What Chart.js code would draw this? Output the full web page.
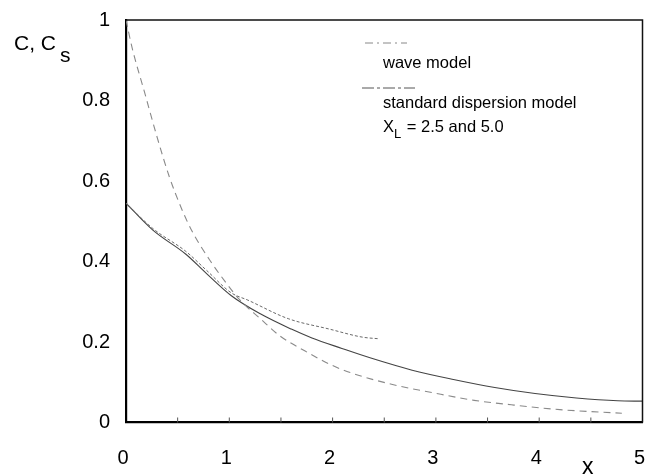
<!DOCTYPE html>
<html><head><meta charset="utf-8">
<script src="https://cdn.jsdelivr.net/npm/chart.js@4/dist/chart.umd.min.js"></script>
<style>html,body{margin:0;padding:0;background:#fff;}#wrap{position:relative;width:646px;height:474px;}</style>
</head><body><div id="wrap"><canvas id="c" width="646" height="474"></canvas></div>
<script>
// ---- data ----
const xTickValues = [0, 1, 2, 3, 4, 5];
const yTickValues = [0, 0.2, 0.4, 0.6, 0.8, 1];
const yTickLabels = ['0', '0.2', '0.4', '0.6', '0.8', '1'];
const xMinorTicks = [0.5, 1, 1.5, 2, 2.5, 3, 3.5, 4, 4.5];

const waveX = [0, 0.06, 0.18, 0.30, 0.42, 0.54, 0.64, 0.82, 0.96, 1.10, 1.30, 1.49, 1.73, 1.97, 2.17, 2.57, 2.97, 3.37, 3.73, 4.20, 4.80];
const waveY = [1.0, 0.93, 0.82, 0.71, 0.61, 0.53, 0.475, 0.40, 0.35, 0.305, 0.258, 0.215, 0.178, 0.145, 0.124, 0.095, 0.074, 0.055, 0.044, 0.032, 0.023];

const disp25X = [0, 0.26, 0.58, 0.78, 1.02, 1.18, 1.57, 1.97, 2.29, 2.45];
const disp25Y = [0.545, 0.482, 0.425, 0.378, 0.322, 0.304, 0.258, 0.232, 0.212, 0.208];

const disp50X = [0, 0.26, 0.58, 0.78, 1.02, 1.30, 1.60, 1.80, 2.09, 2.37, 2.77, 3.17, 3.57, 3.96, 4.36, 4.76, 5.0];
const disp50Y = [0.545, 0.478, 0.418, 0.370, 0.315, 0.270, 0.232, 0.210, 0.184, 0.160, 0.130, 0.107, 0.087, 0.072, 0.061, 0.054, 0.053];

const legendWave = 'wave model';
const legendDisp = 'standard dispersion model';
const legendDisp2 = ['X', 'L', ' = 2.5 and 5.0'];
const yTitle = ['C, C', 's'];
const xTitle = 'x';

const FONT = '"Liberation Sans", Arial, Helvetica, sans-serif';
const pts = (xs, ys) => xs.map((x, i) => ({x: x, y: ys[i]}));

const framePlugin = {
  id: 'frame',
  afterDraw(chart) {
    const {ctx, chartArea: a, scales} = chart;
    ctx.save();
    // top and right frame
    ctx.strokeStyle = '#111';
    ctx.lineWidth = 1.5;
    ctx.beginPath();
    ctx.moveTo(a.left, a.top); ctx.lineTo(a.right, a.top); ctx.lineTo(a.right, a.bottom);
    ctx.stroke();
    // minor ticks inside
    ctx.lineWidth = 1;
    ctx.strokeStyle = '#555';
    xMinorTicks.forEach(v => {
      const px = scales.x.getPixelForValue(v);
      ctx.beginPath(); ctx.moveTo(px, a.bottom); ctx.lineTo(px, a.bottom - 5); ctx.stroke();
    });
    // y title
    ctx.fillStyle = '#000';
    ctx.textBaseline = 'alphabetic';
    ctx.textAlign = 'left';
    ctx.font = '21px ' + FONT;
    ctx.fillText(yTitle[0], 14, 50);
    const w0 = ctx.measureText(yTitle[0]).width;
    ctx.fillText(yTitle[1], 14 + w0 + 4, 62);
    // x title
    ctx.font = '23px ' + FONT;
    ctx.textAlign = 'center';
    ctx.fillText(xTitle, scales.x.getPixelForValue(4.47), 474);
    // legend
    const lx = a.left + 257;
    ctx.textAlign = 'left';
    ctx.font = '16.5px ' + FONT;
    ctx.strokeStyle = '#888';
    ctx.lineWidth = 1;
    ctx.setLineDash([8, 4, 2, 4]);
    ctx.beginPath(); ctx.moveTo(lx - 18, 43); ctx.lineTo(lx + 24, 43); ctx.stroke();
    ctx.fillText(legendWave, lx, 68);
    ctx.strokeStyle = '#555';
    ctx.setLineDash([12, 3, 3, 3]);
    ctx.beginPath(); ctx.moveTo(lx - 21, 88); ctx.lineTo(lx + 32, 88); ctx.stroke();
    ctx.setLineDash([]);
    ctx.fillText(legendDisp, lx, 108);
    ctx.fillText(legendDisp2[0], lx, 132);
    const wx = ctx.measureText(legendDisp2[0]).width;
    ctx.font = '13px ' + FONT;
    ctx.fillText(legendDisp2[1], lx + wx, 138);
    const wl = ctx.measureText(legendDisp2[1]).width;
    ctx.font = '16.5px ' + FONT;
    ctx.fillText(legendDisp2[2], lx + wx + wl + 1, 132);
    ctx.restore();
  }
};

new Chart(document.getElementById('c'), {
  type: 'scatter',
  data: {
    datasets: [
      {label: legendWave, data: pts(waveX, waveY), showLine: true, borderColor: '#8a8a8a', borderWidth: 1.1, borderDash: [7, 5], pointRadius: 0, cubicInterpolationMode: 'monotone'},
      {label: 'X_L = 2.5', data: pts(disp25X, disp25Y), showLine: true, borderColor: '#6a6a6a', borderWidth: 1, borderDash: [3, 2], pointRadius: 0, cubicInterpolationMode: 'monotone'},
      {label: 'X_L = 5.0', data: pts(disp50X, disp50Y), showLine: true, borderColor: '#444', borderWidth: 1.1, pointRadius: 0, cubicInterpolationMode: 'monotone'}
    ]
  },
  options: {
    responsive: false,
    animation: false,
    devicePixelRatio: 1,
    layout: {padding: {left: 0, right: 3.5, top: 20, bottom: 0}},
    plugins: {legend: {display: false}, tooltip: {enabled: false}},
    scales: {
      x: {
        type: 'linear', min: 0, max: 5,
        afterBuildTicks(s) { s.ticks = xTickValues.map(v => ({value: v})); },
        afterFit(s) { s.height = 51.5; s.paddingLeft = 0; s.paddingRight = 0; },
        grid: {display: false, drawTicks: false},
        border: {display: true, color: '#000', width: 2.2},
        ticks: {font: {family: FONT, size: 20}, color: '#000', padding: 24, labelOffset: -3, maxRotation: 0}
      },
      y: {
        type: 'linear', min: 0, max: 1,
        afterBuildTicks(s) { s.ticks = yTickValues.map(v => ({value: v})); },
        afterFit(s) { s.width = 126; s.paddingTop = 0; s.paddingBottom = 0; },
        grid: {display: false, drawTicks: false},
        border: {display: true, color: '#000', width: 2.2},
        ticks: {font: {family: FONT, size: 20}, color: '#000', padding: 16,
          callback: (v, i) => yTickLabels[yTickValues.indexOf(v)] ?? ''}
      }
    }
  },
  plugins: [framePlugin]
});
</script></body></html>
